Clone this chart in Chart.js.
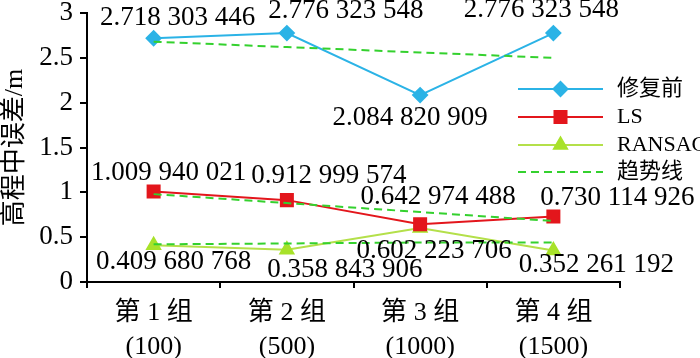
<!DOCTYPE html>
<html>
<head>
<meta charset="utf-8">
<script src="https://cdn.jsdelivr.net/npm/chart.js@4.4.0/dist/chart.umd.min.js"></script>
<style>
  html, body { margin: 0; padding: 0; background: #fff; }
  #wrap { width: 700px; height: 358px; }
</style>
</head>
<body>
<div id="wrap"><canvas id="c" width="700" height="358"></canvas></div>
<script>
// data
const categories = [['第 1 组', '(100)'], ['第 2 组', '(500)'], ['第 3 组', '(1000)'], ['第 4 组', '(1500)']];
const beforeRepair = [2.718303446, 2.776323548, 2.084820909, 2.776323548];
const lsValues = [1.009940021, 0.912999574, 0.642974488, 0.730114926];
const ransacValues = [0.409680768, 0.358843906, 0.602223706, 0.352261192];
const trendBefore = [2.68, 2.62, 2.56, 2.50];
const trendLS = [0.98, 0.88, 0.78, 0.68];
const trendRansac = [0.42, 0.43, 0.44, 0.44];
const yTicks = [0, 0.5, 1, 1.5, 2, 2.5, 3];

const Colors = {
  before: '#2BB3E6',
  ls: '#E3161C',
  ransac: '#A8E22A',
  ransacLine: '#B4E04A',
  trend: '#34D12E'
};
const SERIF = "'Liberation Serif', 'Noto Sans CJK SC', serif";

// label offsets (px) from each point, hand placed like the original
const labelOffsets = {
  before: [[24, -20], [59, -22], [-10, 23], [-12, -23]],
  ls: [[15, -19], [42, -24], [18, -27], [64, -19]],
  ransac: [[20, 17], [58, 20], [14, 23], [43, 14]]
};

function fmt(v) {
  const s = v.toFixed(9);
  const [i, d] = s.split('.');
  return i + '.' + d.replace(/(\d{3})(?=\d)/g, '$1 ');
}

const dataLabels = {
  id: 'dataLabels',
  afterDatasetsDraw(chart) {
    const ctx = chart.ctx;
    ctx.save();
    ctx.font = '27px ' + SERIF;
    ctx.fillStyle = '#000';
    ctx.textAlign = 'center';
    ctx.textBaseline = 'middle';
    chart.data.datasets.forEach((ds, di) => {
      if (!ds.labelKey) return;
      const meta = chart.getDatasetMeta(di);
      meta.data.forEach((pt, i) => {
        const [dx, dy] = labelOffsets[ds.labelKey][i];
        ctx.fillText(fmt(ds.data[i]), pt.x + dx, pt.y + dy);
      });
    });
    ctx.restore();
  }
};

const legendItems = [
  { text: '修复前', color: Colors.before, style: 'rectRot', radius: 7 },
  { text: 'LS', color: Colors.ls, style: 'rect', radius: 8.5 },
  { text: 'RANSAC', color: Colors.ransacLine, mcolor: Colors.ransac, style: 'triangle', radius: 7.5 },
  { text: '趋势线', color: Colors.trend, dash: [8, 5] }
];

const sideLegend = {
  id: 'sideLegend',
  afterDraw(chart) {
    const ctx = chart.ctx;
    const x0 = 518, x1 = 603, tx = 617;
    const ys = [89, 117, 145, 172];
    ctx.save();
    legendItems.forEach((it, i) => {
      const y = ys[i];
      ctx.strokeStyle = it.color;
      ctx.lineWidth = 2;
      ctx.setLineDash(it.dash || []);
      ctx.beginPath();
      ctx.moveTo(x0, y);
      ctx.lineTo(x1, y);
      ctx.stroke();
      ctx.setLineDash([]);
      if (it.style) {
        ctx.fillStyle = it.mcolor || it.color;
        ctx.strokeStyle = it.mcolor || it.color;
        Chart.helpers.drawPoint(ctx, { pointStyle: it.style, radius: it.radius, rotation: 0, borderWidth: 1 }, (x0 + x1) / 2, y);
      }
      ctx.fillStyle = '#000';
      ctx.font = '22px ' + SERIF;
      ctx.textAlign = 'left';
      ctx.textBaseline = 'middle';
      ctx.fillText(it.text, tx, y);
    });
    ctx.restore();
  }
};

function trendSet(data) {
  return {
    data,
    borderColor: Colors.trend,
    borderWidth: 2,
    borderDash: [8, 5],
    pointRadius: 0,
    fill: false,
    order: 0
  };
}

new Chart(document.getElementById('c'), {
  type: 'line',
  data: {
    labels: categories,
    datasets: [
      trendSet(trendBefore),
      trendSet(trendLS),
      trendSet(trendRansac),
      {
        label: '修复前', data: beforeRepair, labelKey: 'before',
        borderColor: Colors.before, backgroundColor: Colors.before, borderWidth: 2,
        pointStyle: 'rectRot', pointRadius: 7, order: 1
      },
      {
        label: 'LS', data: lsValues, labelKey: 'ls',
        borderColor: Colors.ls, backgroundColor: Colors.ls, borderWidth: 2,
        pointStyle: 'rect', pointRadius: 8.5, order: 1
      },
      {
        label: 'RANSAC', data: ransacValues, labelKey: 'ransac',
        borderColor: Colors.ransacLine, backgroundColor: Colors.ransac, pointBorderColor: Colors.ransac, borderWidth: 2,
        pointStyle: 'triangle', pointRadius: 7.5, order: 1
      }
    ]
  },
  options: {
    responsive: false,
    animation: false,
    devicePixelRatio: 1,
    layout: { padding: { top: 13, right: 80, left: 0, bottom: 0 } },
    plugins: { legend: { display: false }, tooltip: { enabled: false } },
    elements: { line: { tension: 0 } },
    scales: {
      x: {
        offset: true,
        grid: { display: true, drawOnChartArea: false, offset: true, tickLength: 6, color: '#000', lineWidth: 2 },
        border: { display: true, color: '#000', width: 2 },
        ticks: { color: '#000', font: { family: SERIF, size: 26, lineHeight: 1.3 }, padding: 8, maxRotation: 0 },
        afterFit(axis) { axis.height = 76; axis.paddingLeft = 0; axis.paddingRight = 0; }
      },
      y: {
        min: 0, max: 3,
        afterBuildTicks(axis) { axis.ticks = yTicks.map(v => ({ value: v })); },
        grid: { display: true, drawOnChartArea: false, tickLength: 7, color: '#000', lineWidth: 2 },
        border: { display: true, color: '#000', width: 2 },
        ticks: { color: '#000', font: { family: SERIF, size: 27 }, padding: 7, callback: v => String(v) },
        title: { display: true, text: '高程中误差/m', color: '#000', font: { family: SERIF, size: 26 }, padding: { top: 0, bottom: 0 } },
        afterFit(axis) { axis.width = 87; axis.paddingTop = 0; axis.paddingBottom = 0; }
      }
    }
  },
  plugins: [dataLabels, sideLegend]
});
</script>
</body>
</html>
